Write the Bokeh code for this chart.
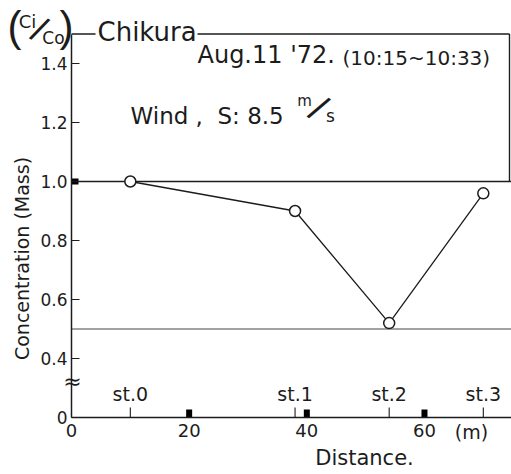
import math

from bokeh.core.properties import value
from bokeh.embed import file_html
from bokeh.models import FixedTicker, Label, Range1d
from bokeh.plotting import figure
from bokeh.resources import INLINE

# Chikura, Aug. 11 '72: relative concentration Ci/Co at the sampling stations
stations = ["st.0", "st.1", "st.2", "st.3"]
distance_m = [10.0, 38.0, 54.0, 70.0]
concentration = [1.00, 0.90, 0.52, 0.96]

# axis ticks; the y axis is broken below 0.4, its origin sits at 0.2 and reads "0"
x_ticks = [0, 20, 40, 60]
x_tick_labels = ["0", "20", "40", "60"]
marker_ticks = [20, 40, 60]
y_ticks = [0.2, 0.4, 0.6, 0.8, 1.0, 1.2, 1.4]
y_tick_labels = ["0", "0.4", "0.6", "0.8", "1.0", "1.2", "1.4"]
reference_levels = [1.0, 0.5]

FONT = "DejaVu Sans"
THIN = "Liberation Sans"
INK = "#1c1c1c"

W, H = 511, 474
LEFT, BOTTOM = 71, 57          # pixel position of the axes' origin
PX_PER_M = 5.883
PX_PER_UNIT = 295.0
Y_BASE = 0.2
X_END = (W - LEFT) / PX_PER_M


def dx(px):
    return (px - LEFT) / PX_PER_M


def dy(py):
    return Y_BASE + ((H - BOTTOM) - py) / PX_PER_UNIT


# the frame fills the whole canvas; the axes are pinned at the origin
p = figure(
    width=W, height=H,
    x_range=Range1d(dx(0), dx(W)), y_range=Range1d(dy(H), dy(0)),
    output_backend="svg", toolbar_location=None,
    min_border=0,
)
p.outline_line_color = None
p.grid.visible = False
p.background_fill_color = "white"
p.border_fill_color = "white"

# x axis
xa = p.xaxis[0]
xa.fixed_location = Y_BASE
xa.bounds = (0, X_END)
xa.ticker = FixedTicker(ticks=x_ticks, minor_ticks=[])
xa.major_label_overrides = dict(zip(x_ticks, x_tick_labels))
xa.major_tick_in = 0
xa.major_tick_out = 0
xa.minor_tick_in = 0
xa.minor_tick_out = 0
xa.axis_line_color = INK
xa.axis_line_width = 1.5
xa.major_label_standoff = 6
xa.major_label_text_font = FONT
xa.major_label_text_font_size = "18px"
xa.major_label_text_color = INK

# y axis
ya = p.yaxis[0]
ya.fixed_location = 0
ya.bounds = (Y_BASE, 1.5)
ya.ticker = FixedTicker(ticks=y_ticks, minor_ticks=[])
ya.major_label_overrides = dict(zip(y_ticks, y_tick_labels))
ya.major_tick_in = 8
ya.major_tick_out = 0
ya.minor_tick_in = 0
ya.minor_tick_out = 0
ya.major_tick_line_color = INK
ya.axis_line_color = INK
ya.axis_line_width = 1.5
ya.major_label_standoff = 4
ya.major_label_text_font = FONT
ya.major_label_text_font_size = "17px"
ya.major_label_text_color = INK

# reference levels, drawn from the y axis to the right edge
p.ray(x=[0] * len(reference_levels), y=reference_levels, length=0, angle=0,
      line_color=[INK, "#444444"], line_width=[1.6, 1.0])

# box framing the header
p.segment(x0=[0, dx(197), dx(509)], y0=[1.5, 1.5, 1.5],
          x1=[dx(95), dx(509), dx(509)], y1=[1.5, 1.5, 1.0],
          line_color=INK, line_width=1.4)

# black marks on the axes
p.ray(x=marker_ticks, y=[Y_BASE] * len(marker_ticks), length=8, length_units="screen",
      angle=math.pi / 2, line_color="black", line_width=6, line_cap="butt")
p.ray(x=[0], y=[1.0], length=7, length_units="screen", angle=0,
      line_color="black", line_width=6, line_cap="butt")

# station ticks and names
p.ray(x=distance_m, y=[Y_BASE] * len(distance_m), length=10, length_units="screen",
      angle=math.pi / 2, line_color=INK, line_width=1.1)
p.text(x=distance_m, y=[Y_BASE] * len(distance_m), text=stations, y_offset=-24,
       text_align="center", text_baseline="middle",
       text_font=value(FONT), text_font_size="19px", text_color=INK)

# concentration profile
p.line(distance_m, concentration, line_color=INK, line_width=1.3)
p.scatter(distance_m, concentration, marker="circle", size=11,
          fill_color="white", line_color=INK, line_width=1.5)


def label(text, px, py, size, align="left", angle=0.0, font=FONT):
    p.add_layout(Label(x=dx(px), y=dy(py), text=text, angle=angle,
                       text_align=align, text_baseline="middle",
                       text_font=font, text_font_size=f"{size}px", text_color=INK))


# (Ci/Co)
label("(", 14, 26, 42, "center", font=THIN)
label("Ci", 27, 21, 18, "center")
label("/", 39, 29, 36, "center", angle=-0.5, font=THIN)
label("Co", 53, 37, 17, "center")
label(")", 66, 26, 42, "center", font=THIN)

label("Chikura", 97, 31, 26)
label("Aug.11 '72.", 197, 54, 24)
label("(10:15~10:33)", 342, 57, 20)
label("Wind ,", 130, 115, 23)
label("S: 8.5", 217, 115, 23)
label("m", 304, 100, 15, "center")
label("/", 318, 108, 38, "center", angle=-0.6, font=THIN)
label("s", 330, 115, 17, "center")

label("Concentration (Mass)", 21, 258, 19, "center", angle=math.pi / 2)
label("\u2248", 72, 381, 22, "center")
label("(m)", 471, 431, 19, "center")
label("Distance.", 364, 457, 21, "center")

open("out.html", "w").write(file_html(p, INLINE))
